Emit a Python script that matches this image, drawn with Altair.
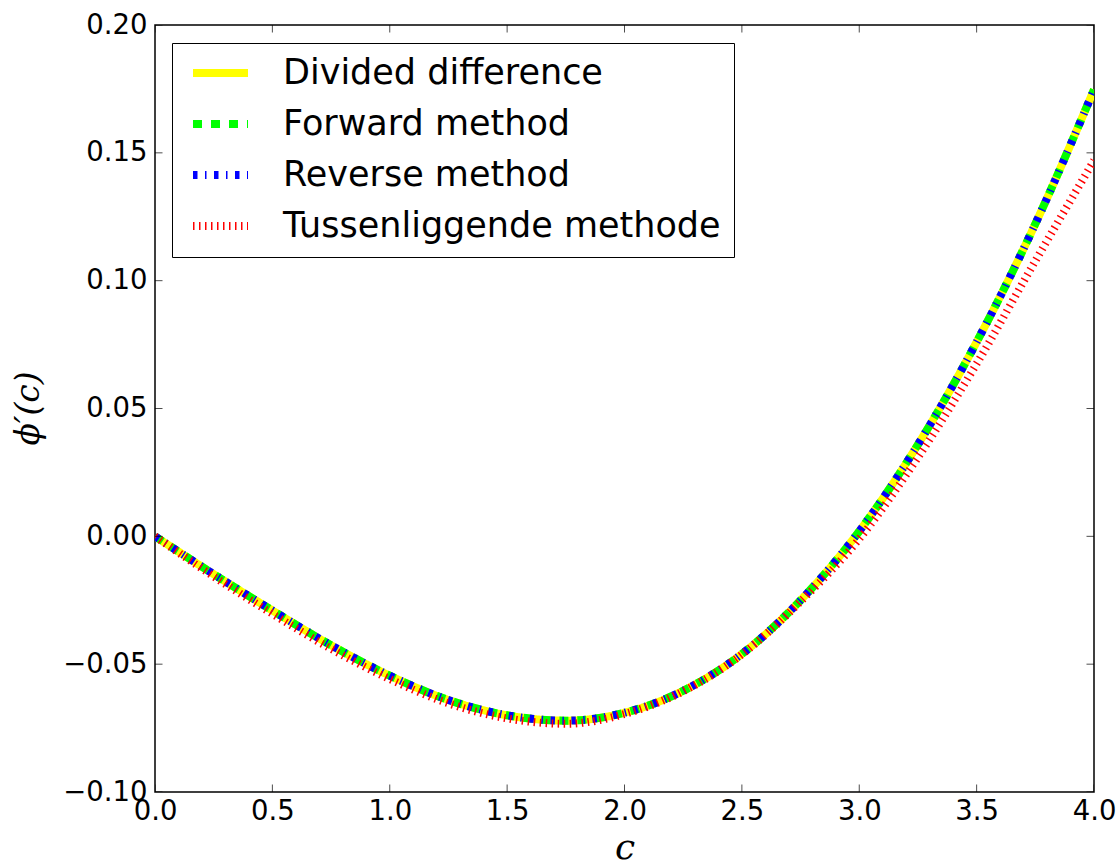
import altair as alt
import pandas as pd

# ---- data ----
c_values = [0.0, 0.25, 0.5, 0.75, 1.0, 1.25, 1.5, 1.75, 2.0,
            2.25, 2.5, 2.75, 3.0, 3.25, 3.5, 3.75, 4.0]
divided_difference = [0.0, -0.0148, -0.0290, -0.0426, -0.0545, -0.0640, -0.0700, -0.0721,
                      -0.0690, -0.0604, -0.0460, -0.0250, 0.0020, 0.0359, 0.0760, 0.1222, 0.1747]
forward_method = [0.0, -0.0148, -0.0290, -0.0426, -0.0545, -0.0640, -0.0700, -0.0721,
                  -0.0690, -0.0604, -0.0460, -0.0250, 0.0020, 0.0359, 0.0760, 0.1222, 0.1747]
reverse_method = [0.0, -0.0148, -0.0290, -0.0426, -0.0545, -0.0640, -0.0700, -0.0721,
                  -0.0690, -0.0604, -0.0460, -0.0250, 0.0020, 0.0359, 0.0760, 0.1222, 0.1747]
tussenliggende_methode = [0.0, -0.0157, -0.0303, -0.0440, -0.0558, -0.0653, -0.0712, -0.0733,
                          -0.0695, -0.0606, -0.0462, -0.0255, -0.0010, 0.0309, 0.0675, 0.1077, 0.1470]

methods = ["Divided difference", "Forward method", "Reverse method", "Tussenliggende methode"]
series = [divided_difference, forward_method, reverse_method, tussenliggende_methode]
colors = ["#ffff00", "#00ff00", "#0000ff", "#ff0000"]
dashes = [[1, 0], [9, 9], [4.5, 7.5, 1.5, 7.5], [1.5, 4.5]]

x_ticks = [0.0, 0.5, 1.0, 1.5, 2.0, 2.5, 3.0, 3.5, 4.0]
y_ticks = [-0.10, -0.05, 0.0, 0.05, 0.10, 0.15, 0.20]

rows = []
for m, vals in zip(methods, series):
    for c, v in zip(c_values, vals):
        rows.append({"c": c, "phi": v, "method": m})
df = pd.DataFrame(rows)

xt = pd.DataFrame([{"c": v, "phi": e} for v in x_ticks for e in (-0.10, 0.20)])
yt = pd.DataFrame([{"c": e, "phi": v} for v in y_ticks for e in (0.0, 4.0)])

xscale = alt.Scale(domain=[0, 4], nice=False, zero=False)
yscale = alt.Scale(domain=[-0.10, 0.20], nice=False, zero=False)

x_axis = alt.Axis(values=x_ticks, format=".1f", title="c", labelFontSize=27.5,
                  labelFont="DejaVu Sans", labelColor="black", domain=False, ticks=False,
                  grid=False, labelPadding=5, labelFlush=False, labelOverlap=False,
                  titleFont="DejaVu Serif", titleFontStyle="italic", titleFontWeight="normal",
                  titleFontSize=36, titleColor="black", titleY=66, titleBaseline="alphabetic")
y_axis = alt.Axis(values=y_ticks, format=".2f", title="ϕ′(c)", labelFontSize=27.5,
                  labelFont="DejaVu Sans", labelColor="black", domain=False, ticks=False,
                  grid=False, labelPadding=8, labelFlush=False, labelOverlap=False,
                  titleFont="DejaVu Serif", titleFontStyle="italic", titleFontWeight="normal",
                  titleFontSize=33, titleColor="black", titleX=-127, titleY=383,
                  titleAngle=270, titleAlign="center", titleBaseline="middle")

legend = alt.Legend(orient="none", legendX=17, legendY=18, title=None,
                    labelFontSize=35, labelFont="DejaVu Sans", labelColor="black",
                    labelLimit=1000, symbolType="stroke", symbolSize=3025,
                    symbolStrokeWidth=8, strokeColor="black", fillColor="white",
                    padding=13, labelOffset=31, rowPadding=16, symbolOffset=4,
                    clipHeight=34, cornerRadius=0)

color_enc = alt.Color("method:N", scale=alt.Scale(domain=methods, range=colors), legend=legend)
dash_enc = alt.StrokeDash("method:N", scale=alt.Scale(domain=methods, range=dashes), legend=legend)

x_enc = alt.X("c:Q", scale=xscale, axis=x_axis)
y_enc = alt.Y("phi:Q", scale=yscale, axis=y_axis)

layers = []
for m in methods:
    layers.append(
        alt.Chart(df).transform_filter(alt.datum.method == m)
        .mark_line(strokeWidth=8, interpolate="monotone", strokeCap="butt", clip=True)
        .encode(x=x_enc, y=y_enc, color=color_enc, strokeDash=dash_enc)
    )

xticks_layer = alt.Chart(xt).mark_tick(orient="vertical", size=15, thickness=1,
                                       color="black", clip=True).encode(x=x_enc, y=y_enc)
yticks_layer = alt.Chart(yt).mark_tick(orient="horizontal", size=15, thickness=1,
                                       color="black", clip=True).encode(x=x_enc, y=y_enc)

chart = alt.layer(*layers, xticks_layer, yticks_layer).properties(
    width=939, height=767,
    autosize=alt.AutoSizeParams(type="none"),
    padding={"left": 155, "top": 25, "right": 25, "bottom": 73},
    background="white",
).configure_view(stroke="black", strokeWidth=1.5)

chart.save("out.html", embed_options={"renderer": "svg", "actions": False})
